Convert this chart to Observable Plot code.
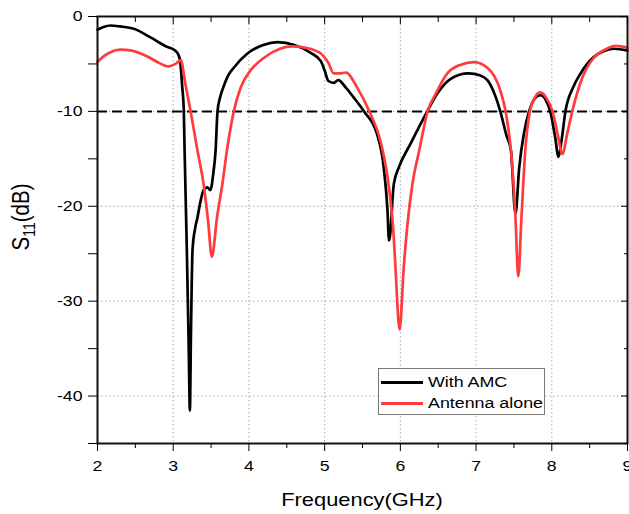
<!DOCTYPE html>
<html>
<head>
<meta charset="utf-8">
<script src="https://cdn.jsdelivr.net/npm/d3@7"></script>
<script src="https://cdn.jsdelivr.net/npm/@observablehq/plot@0.6"></script>
<style>
  html, body { margin: 0; padding: 0; background: white; }
  #wrap { position: relative; width: 629px; height: 514px; font-family: "Liberation Sans", Arial, sans-serif; }
  #legend { position: absolute; left: 378px; top: 368px; width: 165px; height: 45px; border: 1px solid #777; background: white; }
  .row { position: absolute; left: 0; height: 20px; width: 165px; }
  .swatch { position: absolute; left: 2px; width: 42px; height: 3px; }
  .lab { position: absolute; left: 49px; font-size: 15.5px; line-height: 20px; white-space: nowrap; transform: scaleX(1.15); transform-origin: left center; color: #000; }
</style>
</head>
<body>
<div id="wrap"></div>
<script>
// With AMC (black) — frequency (GHz) and S11 (dB)
const amcFreq = [2.00, 2.08, 2.17, 2.30, 2.48, 2.70, 2.92, 3.01, 3.06, 3.09, 3.12, 3.14, 3.15, 3.18, 3.205, 3.22, 3.235, 3.255, 3.29, 3.32, 3.36, 3.40, 3.45, 3.49, 3.53, 3.56, 3.585, 3.62, 3.66, 3.72, 3.80, 3.98, 4.19, 4.38, 4.60, 4.81, 4.95, 5.00, 5.05, 5.12, 5.18, 5.28, 5.38, 5.52, 5.69, 5.78, 5.83, 5.85, 5.88, 5.895, 5.915, 5.98, 6.135, 6.355, 6.49, 6.66, 6.90, 7.05, 7.15, 7.26, 7.32, 7.40, 7.46, 7.52, 7.57, 7.63, 7.70, 7.78, 7.85, 7.92, 7.98, 8.04, 8.09, 8.13, 8.18, 8.28, 8.38, 8.55, 8.70, 8.82, 9.00];
const amcS11  = [-1.4, -1.1, -0.95, -1.05, -1.3, -2.2, -3.2, -3.5, -3.9, -4.6, -7.5, -10, -14, -24.6, -35, -41.5, -33, -24.6, -22.3, -21.2, -19.5, -18.3, -18.0, -18.3, -16.5, -14.1, -10, -8.5, -7.5, -6.3, -5.4, -3.9, -3.0, -2.7, -3.0, -3.8, -4.7, -5.7, -6.8, -7.0, -6.7, -7.5, -8.5, -10, -12.35, -15.9, -20.4, -23.6, -21.5, -19.4, -17.6, -15.9, -13.4, -10, -8.1, -6.6, -6.0, -6.2, -6.7, -8.5, -10, -12.5, -14.1, -20.8, -15.9, -12.4, -10, -8.6, -8.3, -8.8, -10, -12.5, -14.8, -13.0, -10, -7.5, -6.0, -4.3, -3.6, -3.4, -3.6];

// Antenna alone (red)
const aloneFreq = [2.00, 2.08, 2.17, 2.30, 2.45, 2.57, 2.68, 2.79, 2.88, 2.94, 3.03, 3.10, 3.16, 3.23, 3.32, 3.40, 3.46, 3.51, 3.58, 3.65, 3.71, 3.80, 3.89, 4.02, 4.19, 4.41, 4.57, 4.75, 4.95, 5.05, 5.12, 5.20, 5.28, 5.43, 5.59, 5.74, 5.83, 5.87, 5.91, 5.935, 5.99, 6.045, 6.09, 6.16, 6.25, 6.36, 6.47, 6.62, 6.79, 6.97, 7.15, 7.32, 7.39, 7.48, 7.52, 7.557, 7.60, 7.65, 7.71, 7.78, 7.85, 7.93, 8.01, 8.08, 8.14, 8.20, 8.27, 8.40, 8.55, 8.70, 8.85, 9.00];
const aloneS11  = [-4.8, -4.2, -3.76, -3.5, -3.6, -3.9, -4.3, -4.8, -5.15, -5.26, -5.0, -4.6, -7.1, -10, -14.1, -17.6, -21.5, -25.3, -21.1, -17.6, -14.1, -10, -7.5, -5.7, -4.4, -3.4, -3.15, -3.3, -3.9, -4.9, -6.0, -6.0, -5.9, -7.5, -10, -13.2, -16.9, -19.4, -22.9, -26.4, -33.0, -26.4, -22.2, -17.6, -14.1, -10, -8.1, -6.0, -5.1, -4.8, -5.4, -7.8, -10, -15.9, -21.1, -27.4, -21.1, -14.1, -10, -8.5, -8.0, -8.6, -10, -12.5, -14.5, -12.5, -10, -6.5, -4.4, -3.5, -3.1, -3.3];

// Axis ticks
const xMajorTicks = [2, 3, 4, 5, 6, 7, 8, 9];
const xMinorTicks = [2.5, 3.5, 4.5, 5.5, 6.5, 7.5, 8.5];
const xGridTicks  = [3, 4, 5, 6, 7, 8];
const yMajorTicks = [0, -10, -20, -30, -40];
const yMinorTicks = [-5, -15, -25, -35, -45];
const yGridTicks  = [-10, -20, -30, -40];
const threshold = [-10];
const xLabel = "Frequency(GHz)";
const seriesNames = ["With AMC", "Antenna alone"];
const seriesColors = ["#000000", "#ff3b3b"];

const amc = amcFreq.map((f, i) => ({f, s: amcS11[i]}));
const alone = aloneFreq.map((f, i) => ({f, s: aloneS11[i]}));

const W = 629, H = 514;
const chart = Plot.plot({
  width: W, height: H,
  marginTop: 16, marginBottom: 71, marginLeft: 97, marginRight: 2,
  x: {domain: [2, 9]},
  y: {domain: [-45, 0]},
  style: {fontFamily: "'Liberation Sans', Arial, sans-serif", fontSize: "15.4px", color: "#000", background: "white", overflow: "visible"},
  marks: [
    Plot.gridX(xGridTicks, {stroke: "#aaaaaa", strokeOpacity: 1, strokeDasharray: "1.5,2.5"}),
    Plot.gridY(yGridTicks, {stroke: "#aaaaaa", strokeOpacity: 1, strokeDasharray: "1.5,2.5"}),
    Plot.ruleY(threshold, {stroke: "#000", strokeWidth: 2, strokeDasharray: "10,5"}),
    Plot.line(amc, {x: "f", y: "s", stroke: seriesColors[0], strokeWidth: 2.7, curve: "monotone-x"}),
    Plot.line(alone, {x: "f", y: "s", stroke: seriesColors[1], strokeWidth: 2.7, curve: "monotone-x"}),
    Plot.frame({stroke: "#111", strokeWidth: 2}),
    Plot.axisX(xMajorTicks, {tickSize: 8, tickPadding: 9, label: null, tickFormat: d => String(d)}),
    Plot.axisX(xMinorTicks, {tickSize: 5, label: null, tickFormat: () => ""}),
    Plot.axisY(yMajorTicks, {tickSize: 9, tickPadding: 6, label: null, tickFormat: d => String(d)}),
    Plot.axisY(yMinorTicks, {tickSize: 9, label: null, tickFormat: () => ""}),
    Plot.axisX(xMajorTicks, {anchor: "top", tickSize: -7, label: null, tickFormat: () => ""}),
    Plot.axisX(xMinorTicks, {anchor: "top", tickSize: -5, label: null, tickFormat: () => ""}),
    Plot.axisY(yMajorTicks, {anchor: "right", tickSize: -7, label: null, tickFormat: () => ""}),
    Plot.axisY(yMinorTicks, {anchor: "right", tickSize: -4, label: null, tickFormat: () => ""})
  ]
});

const wrap = document.getElementById("wrap");
wrap.appendChild(chart);
const svg = d3.select(chart);

// Axis titles
svg.append("text")
  .attr("x", 362).attr("y", 506)
  .attr("text-anchor", "middle")
  .attr("font-size", 19)
  .attr("fill", "#000")
  .text(xLabel);

const yl = svg.append("g").attr("transform", "translate(29,217) scale(1.15,1) rotate(-90)")
  .append("text")
  .attr("text-anchor", "middle")
  .attr("font-size", 20.5)
  .attr("fill", "#000");
yl.append("tspan").text("S");
yl.append("tspan").attr("font-size", 14).attr("dy", 5).text("11");
yl.append("tspan").attr("dy", -5).text("(dB)");

// Horizontal stretch to match the reference's wide lettering
chart.querySelectorAll("text").forEach(t => {
  if (t.querySelector("tspan")) return;
  const len = t.getComputedTextLength();
  if (len > 0) {
    t.setAttribute("textLength", (len * 1.15).toFixed(2));
    t.setAttribute("lengthAdjust", "spacingAndGlyphs");
  }
});

// Legend
const legend = document.createElement("div");
legend.id = "legend";
seriesNames.forEach((name, i) => {
  const row = document.createElement("div");
  row.className = "row";
  row.style.top = (i === 0 ? 3 : 24) + "px";
  const sw = document.createElement("div");
  sw.className = "swatch";
  sw.style.top = "9px";
  sw.style.background = seriesColors[i];
  const lab = document.createElement("div");
  lab.className = "lab";
  lab.style.top = "0px";
  lab.textContent = name;
  row.appendChild(sw);
  row.appendChild(lab);
  legend.appendChild(row);
});
wrap.appendChild(legend);
</script>
</body>
</html>
